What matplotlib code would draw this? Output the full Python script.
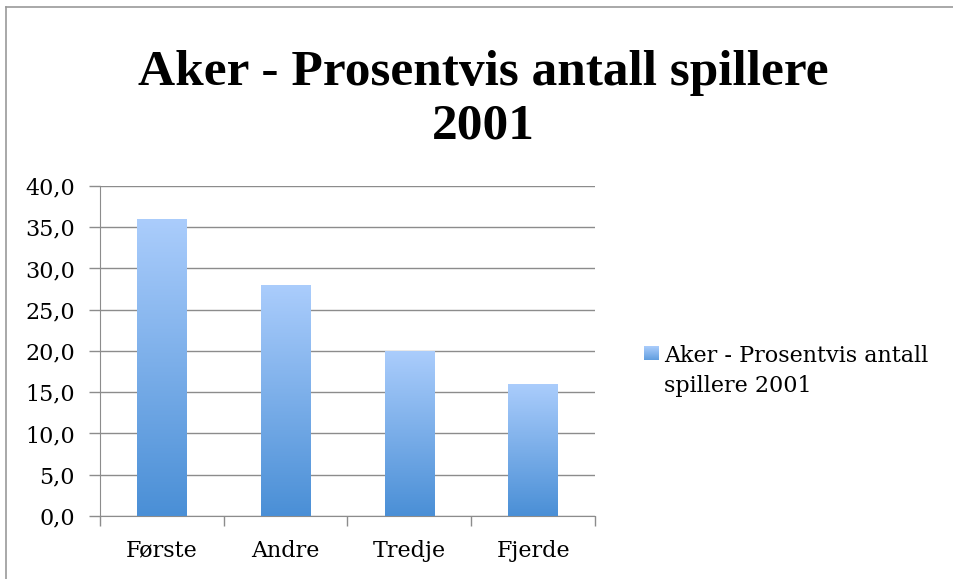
import matplotlib
matplotlib.use("Agg")
import matplotlib.pyplot as plt
import numpy as np
from matplotlib.colors import LinearSegmentedColormap
from matplotlib.lines import Line2D

categories = ["Første", "Andre", "Tredje", "Fjerde"]
values = [36.0, 28.0, 20.0, 16.0]
series_name = "Aker - Prosentvis antall\nspillere 2001"
title = "Aker - Prosentvis antall spillere\n2001"
yticks = [0, 5, 10, 15, 20, 25, 30, 35, 40]

plt.rcParams['font.family'] = ['DejaVu Serif', 'Liberation Serif']

grad = LinearSegmentedColormap.from_list("bar", ["#4a8fd6", "#abcdfc"])
gray = "#8c8c8c"

fig = plt.figure(figsize=(9.54, 5.79), dpi=100)
ax = fig.add_axes([0.1048, 0.1088, 0.5189, 0.570])

x = np.arange(len(categories))
bars = ax.bar(x, values, width=0.4, color="none", edgecolor="none", zorder=3)

# gradient fill clipped to each bar
g = np.linspace(0, 1, 256).reshape(-1, 1)
for b in bars:
    x0 = b.get_x()
    w, h = b.get_width(), b.get_height()
    im = ax.imshow(g, cmap=grad, origin="lower", aspect="auto",
                   extent=[x0, x0 + w, 0, h], zorder=3)
    im.set_clip_path(b)

ax.set_xlim(-0.5, len(categories) - 0.5)
ax.set_ylim(0, 40)

ax.set_yticks(yticks)
ax.set_yticklabels([("%.1f" % v).replace(".", ",") for v in yticks])
ax.set_xticks(x)
ax.set_xticklabels(categories)
ax.set_xticks(np.arange(len(categories) + 1) - 0.5, minor=True)
ax.tick_params(axis="x", which="major", length=0, pad=17, labelsize=16)
ax.tick_params(axis="x", which="minor", length=7, color=gray, width=1)
ax.tick_params(axis="y", length=8, color=gray, width=1, pad=10, labelsize=16)

ax.yaxis.grid(True, color=gray, linewidth=1)
ax.set_axisbelow(True)
for s in ["top", "right"]:
    ax.spines[s].set_visible(False)
ax.spines["left"].set_color(gray)
ax.spines["bottom"].set_color(gray)

fig.text(0.507, 0.913, title, ha="center", va="top", fontsize=37,
         fontweight="bold", linespacing=1.2, family="Liberation Serif")

# legend
sw = fig.add_axes([644 / 954, 1 - 360 / 579, 15 / 954, 14 / 579])
sw.imshow(g, cmap=grad, origin="lower", aspect="auto", clim=(-0.3, 1))
sw.axis("off")
fig.text(664 / 954, 1 - 345 / 579, series_name,
         ha="left", va="top", fontsize=16, linespacing=1.45)

# chart frame (top and left edges)
fig.add_artist(Line2D([6 / 954, 6 / 954], [0, 1 - 7 / 579], transform=fig.transFigure,
                      color="#999999", linewidth=1.2))
fig.add_artist(Line2D([6 / 954, 1], [1 - 7 / 579, 1 - 7 / 579], transform=fig.transFigure,
                      color="#999999", linewidth=1.2))

fig.savefig("out.png", dpi=100)
